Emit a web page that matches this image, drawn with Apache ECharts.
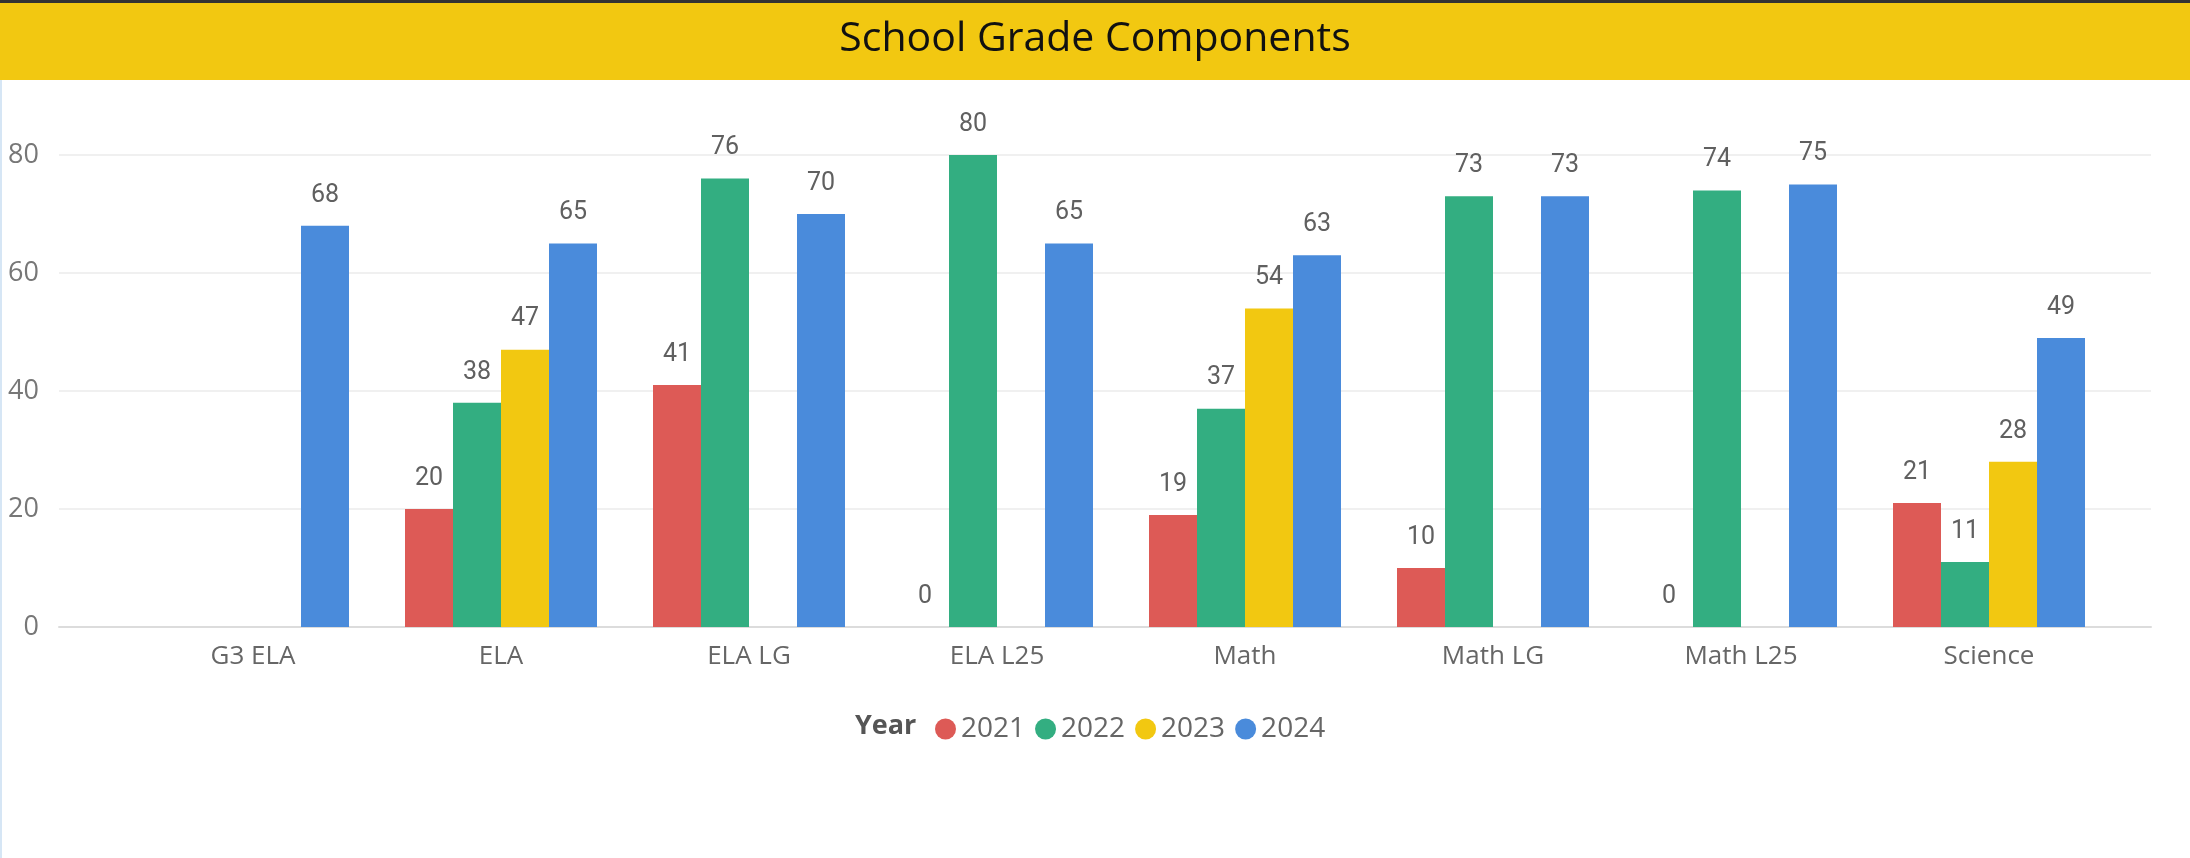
<!DOCTYPE html>
<html>
<head>
<meta charset="utf-8">
<title>School Grade Components</title>
<script src="https://cdn.jsdelivr.net/npm/echarts@6/dist/echarts.min.js"></script>
<style>
  html, body { margin: 0; padding: 0; background: #fff; }
  #chart { width: 2190px; height: 858px; }
</style>
</head>
<body>
<div id="chart"></div>
<script>
// categories and yearly values (null = no bar)
var categories = ['G3 ELA', 'ELA', 'ELA LG', 'ELA L25', 'Math', 'Math LG', 'Math L25', 'Science'];
var years = ['2021', '2022', '2023', '2024'];
var v2021 = [null, 20, 41, 0, 19, 10, 0, 21];
var v2022 = [null, 38, 76, 80, 37, 73, 74, 11];
var v2023 = [null, 47, null, null, 54, null, null, 28];
var v2024 = [68, 65, 70, 65, 63, 73, 75, 49];
var yTicks = [0, 20, 40, 60, 80];

var colors = ['#DD5A56', '#33AE81', '#F2C811', '#4A8BDB'];
var values = [v2021, v2022, v2023, v2024];

var myChart = echarts.init(document.getElementById('chart'));

var series = years.map(function (y, i) {
    return {
        name: y,
        type: 'bar',
        xAxisIndex: 1,
        yAxisIndex: 1,
        barWidth: 48,
        barGap: '0%',
        itemStyle: { color: colors[i] },
        label: {
            show: true,
            position: 'top',
            distance: 18,
            color: '#606060',
            fontSize: 25,
            fontFamily: 'Roboto'
        },
        data: values[i]
    };
});

var option = {
    animation: false,
    color: colors,
    title: {
        text: 'School Grade Components',
        left: 'center',
        top: 14,
        textStyle: { fontFamily: 'Open Sans', fontWeight: 'normal', fontSize: 41, color: '#111' }
    },
    graphic: [
        { type: 'rect', left: 0, top: 0, shape: { width: 2190, height: 3 }, style: { fill: '#333' }, z: -1 },
        { type: 'rect', left: 0, top: 3, shape: { width: 2190, height: 77 }, style: { fill: '#F2C811' }, z: -1 },
        { type: 'rect', left: 0, top: 80, shape: { width: 2, height: 778 }, style: { fill: '#d6e6f5' }, z: -1 },
        {
            type: 'text', left: 855, top: 713,
            style: { text: 'Year', fontFamily: 'Open Sans', fontWeight: 'bold', fontSize: 27, fill: '#555' }
        }
    ],
    legend: {
        data: years,
        left: 930,
        top: 710,
        icon: 'circle',
        itemWidth: 21,
        itemHeight: 21,
        itemGap: 10,
        textStyle: { fontFamily: 'Open Sans', fontSize: 28, color: '#666' }
    },
    grid: [
        { left: 59, right: 39, top: 155, height: 472 },
        { left: 129, right: 77, top: 155, height: 472 }
    ],
    xAxis: [
        {
            type: 'value', gridIndex: 0, min: 0, max: 1,
            axisLine: { show: true, lineStyle: { color: '#dcdcdc', width: 2 } },
            axisTick: { show: false }, axisLabel: { show: false }, splitLine: { show: false }
        },
        {
            type: 'category', gridIndex: 1, data: categories,
            axisLine: { show: false }, axisTick: { show: false },
            axisLabel: { margin: 17, color: '#666', fontSize: 26, fontFamily: 'Open Sans' }
        }
    ],
    yAxis: [
        {
            type: 'value', gridIndex: 0, min: yTicks[0], max: yTicks[yTicks.length - 1], interval: 20,
            axisLine: { show: false }, axisTick: { show: false },
            axisLabel: { margin: 20, color: '#777', fontSize: 27, fontFamily: 'Open Sans' },
            splitLine: { lineStyle: { color: '#ebebeb', width: 1.5 } }
        },
        {
            type: 'value', gridIndex: 1, min: 0, max: 80, interval: 20, show: false,
            splitLine: { show: false }
        }
    ],
    series: series
};

myChart.setOption(option);
</script>
</body>
</html>
